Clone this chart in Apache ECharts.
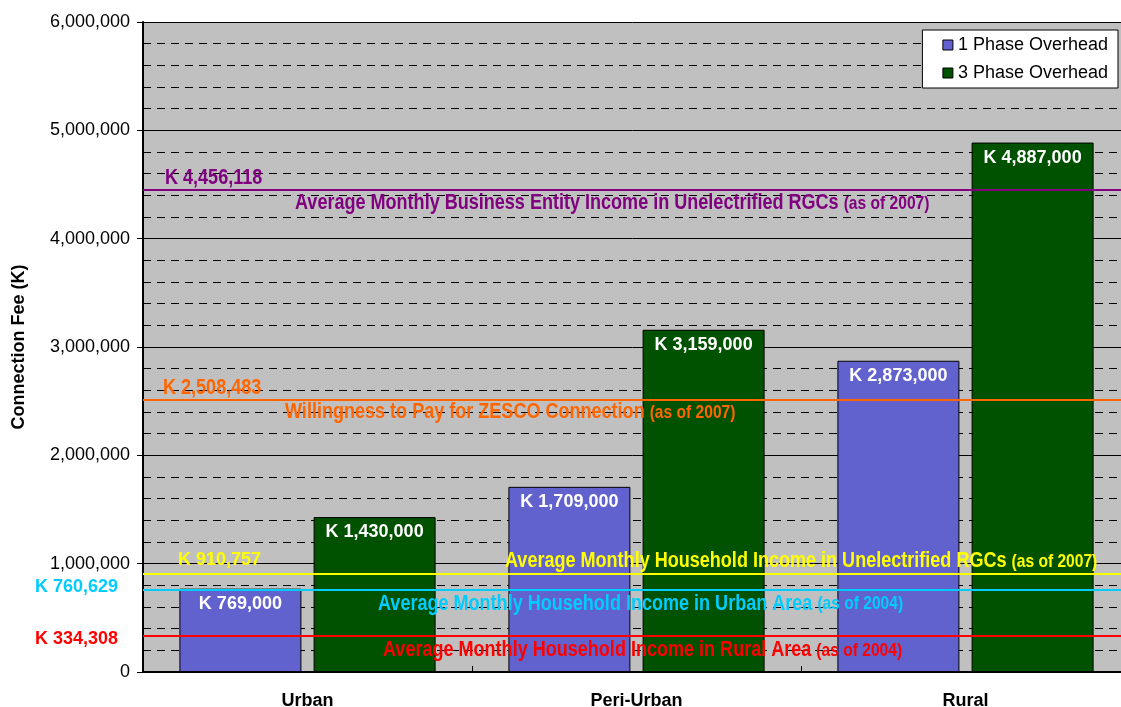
<!DOCTYPE html>
<html lang="en">
<head>
    <meta charset="UTF-8">
    <title>Connection Fee</title>
    <style>
        body { margin: 0; background: #fff; }
    </style>
</head>
<body>
    <div id="main" style="width: 1121px;height:707px;"></div>
    <script src="https://cdn.jsdelivr.net/npm/echarts@6/dist/echarts.min.js"></script>
    <script type="text/javascript">
       // data
       var categories = ['Urban', 'Peri-Urban', 'Rural'];
       var phase1 = [769000, 1709000, 2873000];
       var phase3 = [1430000, 3159000, 4887000];

       // reference lines
       var refValues = [4456118, 2508483, 910757, 760629, 334308];
       var refTitles = [
           'Average Monthly Business Entity Income in Unelectrified RGCs',
           'Willingness to Pay for ZESCO Connection',
           'Average Monthly Household Income in Unelectrified RGCs',
           'Average Monthly Household Income in Urban Area',
           'Average Monthly Household Income in Rural Area'
       ];
       var refDates = ['(as of 2007)', '(as of 2007)', '(as of 2007)', '(as of 2004)', '(as of 2004)'];
       var refColors = ['#800080', '#FF6600', '#FFFF00', '#00CCFF', '#FF0000'];

       // where the texts of each line sit (pixels, relative to the line)
       var labelPos = [
           {x: 165, dy: -11, narrow: true, align: 'left'},
           {x: 163, dy: -12, narrow: true, align: 'left'},
           {x: 178, dy: -13, narrow: false, align: 'left'},
           {x: 118, dy: -3, narrow: false, align: 'right'},
           {x: 118, dy: 3, narrow: false, align: 'right'}
       ];
       var descPos = [
           {x: 295, dy: 14},
           {x: 285, dy: 12},
           {x: 505, dy: -12},
           {x: 378, dy: 14},
           {x: 383, dy: 14}
       ];

       var fmt = function (v) { return v.toLocaleString('en-US'); };

       var myChart = echarts.init(document.getElementById('main'));

       var markData = [];
       for (var i = 0; i < refValues.length; i++) {
           markData.push({
               yAxis: refValues[i],
               lineStyle: {color: refColors[i], width: 2, type: 'solid'}
           });
       }

       var barLabel = {
           show: true,
           position: 'insideTop',
           distance: 6,
           color: '#fff',
           fontWeight: 'bold',
           fontSize: 18,
           fontFamily: 'Liberation Sans, Arial, sans-serif',
           formatter: function (p) { return 'K ' + fmt(p.value); }
       };

       var option = {
           backgroundColor: '#fff',
           textStyle: {fontFamily: 'Liberation Sans, Arial, sans-serif'},
           animation: false,
           grid: {
               left: 143, top: 22, width: 987, height: 650,
               outerBoundsMode: 'none',
               containLabel: false,
               show: true, backgroundColor: '#C0C0C0', borderWidth: 0
           },
           legend: {
               orient: 'vertical',
               right: 3, top: 30,
               padding: [6, 10, 6, 20],
               itemGap: 10,
               itemWidth: 10, itemHeight: 10,
               icon: 'rect',
               itemStyle: {borderColor: '#000', borderWidth: 1},
               backgroundColor: '#fff',
               borderColor: '#000', borderWidth: 1,
               borderRadius: 0,
               textStyle: {fontSize: 18, color: '#000'},
               data: ['1 Phase Overhead', '3 Phase Overhead']
           },
           xAxis: {
               type: 'category',
               data: categories,
               axisLine: {lineStyle: {color: '#000', width: 2}},
               axisTick: {show: true, inside: true, length: 6, lineStyle: {color: '#000'}},
               axisLabel: {fontSize: 18, fontWeight: 'bold', color: '#000', margin: 20},
               splitLine: {show: false}
           },
           yAxis: {
               type: 'value',
               min: 0, max: 6000000, interval: 1000000,
               name: 'Connection Fee (K)',
               nameLocation: 'middle',
               nameGap: 115,
               nameTextStyle: {fontSize: 18, fontWeight: 'bold', color: '#000'},
               axisLine: {show: true, lineStyle: {color: '#000', width: 2}},
               axisTick: {show: true, length: 6, lineStyle: {color: '#000'}},
               axisLabel: {fontSize: 18, color: '#000', margin: 13, formatter: fmt},
               splitLine: {show: true, lineStyle: {color: '#000', width: 1}},
               minorTick: {show: false, splitNumber: 5},
               minorSplitLine: {show: true, lineStyle: {color: '#000', width: 1, type: [8, 6]}}
           },
           series: [{
               name: '1 Phase Overhead',
               type: 'bar',
               data: phase1,
               barWidth: 122,
               barGap: '10%',
               itemStyle: {color: '#6262CE', borderColor: '#000', borderWidth: 1},
               label: barLabel
           }, {
               name: '3 Phase Overhead',
               type: 'bar',
               data: phase3,
               barWidth: 122,
               barGap: '10%',
               itemStyle: {color: '#005200', borderColor: '#000', borderWidth: 1},
               label: barLabel,
               markLine: {
                   silent: true,
                   symbol: 'none',
                   label: {show: false},
                   z: 5,
                   data: markData
               }
           }]
       };
       myChart.setOption(option);

       // texts of the reference lines, placed through the y scale
       var texts = [];
       for (var j = 0; j < refValues.length; j++) {
           var y = myChart.convertToPixel({yAxisIndex: 0}, refValues[j]);
           var lp = labelPos[j];
           texts.push({
               type: 'text',
               x: lp.x,
               y: y + lp.dy,
               scaleX: lp.narrow ? 0.82 : 1,
               z: 100,
               style: {
                   text: 'K ' + fmt(refValues[j]),
                   fill: refColors[j],
                   font: 'bold ' + (lp.narrow ? 22 : 18) + 'px Liberation Sans, Arial, sans-serif',
                   textAlign: lp.align,
                   textVerticalAlign: 'middle'
               }
           });
           var dp = descPos[j];
           texts.push({
               type: 'text',
               x: dp.x,
               y: y + dp.dy,
               scaleX: 0.82,
               z: 100,
               style: {
                   text: '{a|' + refTitles[j] + ' }{b|' + refDates[j] + '}',
                   textVerticalAlign: 'middle',
                   rich: {
                       a: {fill: refColors[j], fontSize: 22, fontWeight: 'bold', fontFamily: 'Liberation Sans, Arial, sans-serif', verticalAlign: 'bottom'},
                       b: {fill: refColors[j], fontSize: 19, fontWeight: 'bold', fontFamily: 'Liberation Sans, Arial, sans-serif', verticalAlign: 'bottom', padding: [0, 0, 1, 0]}
                   }
               }
           });
       }
       myChart.setOption({graphic: texts});
    </script>
</body>
</html>
